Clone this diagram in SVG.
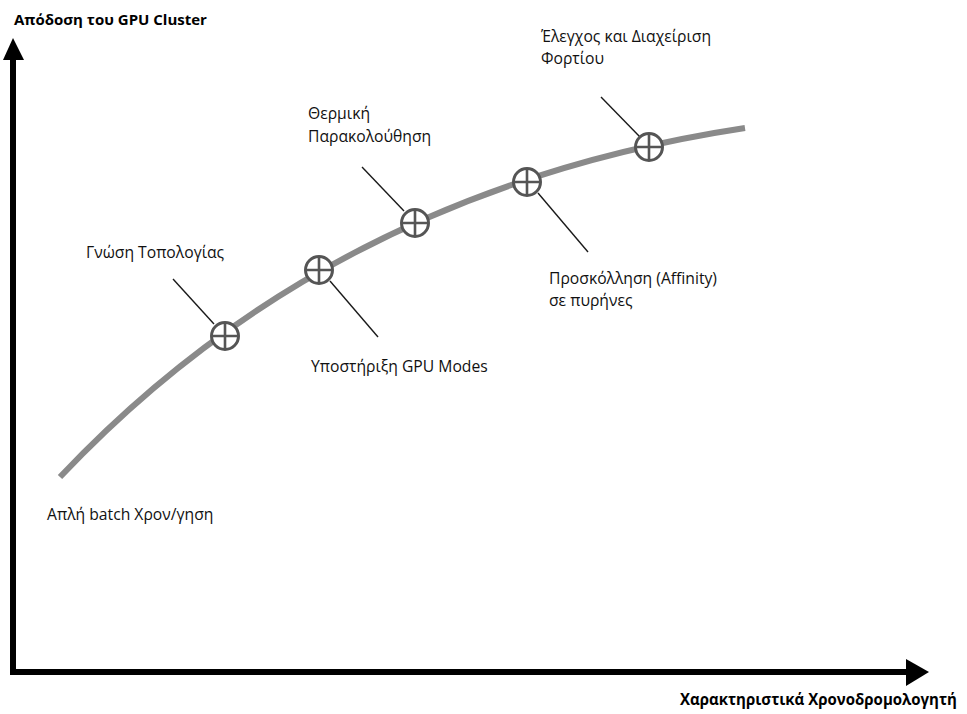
<svg xmlns="http://www.w3.org/2000/svg" width="967" height="714" viewBox="0 0 967 714">
  <style>
    .lbl { font-family: "Open Sans", "Noto Sans", "DejaVu Sans", sans-serif; font-size: 15.7px; fill: #111; }
    .axis-title { font-family: "Open Sans", "Noto Sans", "DejaVu Sans", sans-serif; font-size: 15px; font-weight: bold; fill: #000; }
    .axis-title.x { font-size: 16.5px; }
    .axis { stroke: #000; stroke-width: 6; fill: none; }
    .curve { stroke: #8a8a8a; stroke-width: 6; fill: none; }
    .leader { stroke: #1a1a1a; stroke-width: 1.4; }
    .mark circle { fill: #fff; stroke: #555; stroke-width: 3; }
    .mark path { stroke: #555; stroke-width: 2.6; fill: none; }
  </style>
  <defs>
    <g id="plus-mark" class="mark">
      <circle cx="0" cy="0" r="13.5"/>
      <path d="M-13.5,0 H13.5 M0,-13.5 V13.5"/>
    </g>
  </defs>
  <rect width="967" height="714" fill="#fff"/>

  <!-- axes -->
  <g id="axes">
    <path class="axis" d="M13,58 V672 H908"/>
    <polygon points="3,60 13,38 24,60" fill="#000"/>
    <polygon points="906,659 929,672 906,686" fill="#000"/>
    <text class="axis-title" x="14" y="25">Απόδοση του GPU Cluster</text>
    <text class="axis-title x" transform="translate(680,705) scale(0.91,1)" x="0" y="0">Χαρακτηριστικά Χρονοδρομολογητή</text>
  </g>

  <!-- performance curve -->
  <g id="curve">
    <path class="curve" d="M60,477 C240,286 468,170 745,128"/>
  </g>

  <!-- connectors: leader lines from labels to markers -->
  <g id="connectors">
    <line class="leader" x1="173" y1="279" x2="214" y2="324"/>
    <line class="leader" x1="330" y1="281" x2="378" y2="337"/>
    <line class="leader" x1="362" y1="167" x2="404" y2="211"/>
    <line class="leader" x1="538" y1="193" x2="588" y2="252"/>
    <line class="leader" x1="601" y1="97" x2="640" y2="137"/>
  </g>

  <!-- feature markers -->
  <g id="node-simple-batch">
    <text class="lbl" x="47" y="520">Απλή batch Χρον/γηση</text>
  </g>
  <g id="node-topology">
    <use href="#plus-mark" x="225" y="336"/>
    <text class="lbl" x="86" y="258">Γνώση Τοπολογίας</text>
  </g>
  <g id="node-gpu-modes">
    <use href="#plus-mark" x="319" y="270"/>
    <text class="lbl" x="311" y="372">Υποστήριξη GPU Modes</text>
  </g>
  <g id="node-thermal">
    <use href="#plus-mark" x="415" y="223"/>
    <text class="lbl" x="308" y="119">Θερμική</text>
    <text class="lbl" x="308" y="142">Παρακολούθηση</text>
  </g>
  <g id="node-affinity">
    <use href="#plus-mark" x="527" y="182"/>
    <text class="lbl" x="549" y="284">Προσκόλληση (Affinity)</text>
    <text class="lbl" x="549" y="306">σε πυρήνες</text>
  </g>
  <g id="node-load">
    <use href="#plus-mark" x="649" y="147"/>
    <text class="lbl" x="541" y="42">Έλεγχος και Διαχείριση</text>
    <text class="lbl" x="541" y="64">Φορτίου</text>
  </g>
</svg>
